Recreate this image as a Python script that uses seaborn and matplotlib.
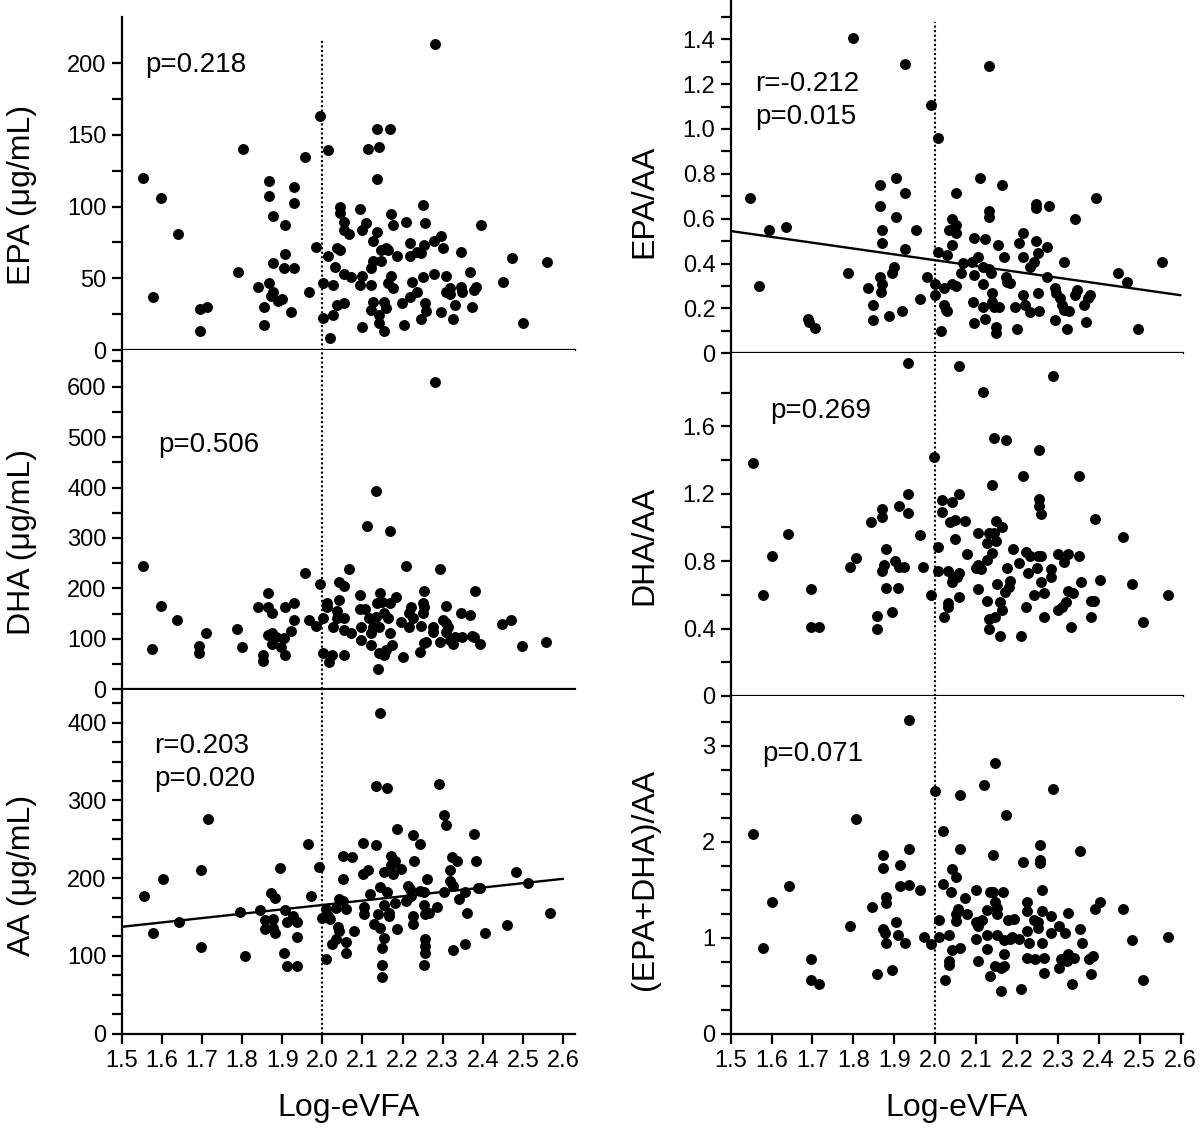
import matplotlib
matplotlib.use("Agg")
import numpy as np
import pandas as pd
import matplotlib.pyplot as plt
import seaborn as sns
from matplotlib.ticker import FixedLocator, FixedFormatter

# (Log-eVFA, value) pairs, one list per panel
epa = [(1.554,120.2),(1.577,36.7),(1.599,106.3),(1.640,80.7),(1.694,28.6),(1.713,30.2),(1.694,13.5),(1.790,54.4),
       (1.803,140.5),(1.841,44.2),(1.854,30.2),(1.854,17.4),(1.867,117.7),(1.867,107.4),(1.877,93.5),(1.867,46.5),
       (1.877,60.5),(1.877,40.7),(1.873,37.9),(1.890,34.2),(1.900,35.6),(1.908,87.2),(1.908,67.0),(1.904,57.0),
       (1.923,26.3),(1.930,114.0),(1.930,102.3),(1.930,57.0),(1.958,134.4),(1.968,40.2),(1.985,72.1),(1.995,163.5),
       (2.003,46.5),(2.003,22.6),(2.014,139.3),(2.014,65.6),(2.018,8.6),(2.026,45.3),(2.026,24.4),(2.031,58.1),
       (2.036,70.9),(2.045,69.8),(2.036,31.4),(2.053,33.0),(2.044,100.0),(2.044,95.3),(2.053,89.5),(2.053,83.7),
       (2.067,80.7),(2.053,53.0),(2.072,50.7),(2.095,98.4),(2.109,88.8),(2.100,83.7),(2.100,51.9),(2.095,45.3),
       (2.100,16.3),(2.114,140.5),(2.137,154.4),(2.141,141.9),(2.137,119.1),(2.137,82.6),(2.127,76.0),(2.127,62.1),
       (2.122,57.0),(2.122,45.3),(2.122,27.9),(2.127,33.7),(2.141,24.4),(2.141,19.1),(2.146,62.1),(2.146,69.8),
       (2.155,33.7),(2.155,13.5),(2.158,29.1),(2.160,70.9),(2.165,69.8),(2.168,154.4),(2.171,94.9),(2.176,87.2),
       (2.171,51.9),(2.163,46.5),(2.176,43.0),(2.186,65.6),(2.199,33.0),(2.204,17.4),(2.209,89.5),(2.218,74.4),
       (2.218,65.6),(2.223,47.7),(2.218,36.7),(2.237,40.2),(2.237,68.6),(2.245,67.4),(2.250,101.2),(2.255,88.4),
       (2.254,73.3),(2.250,50.7),(2.255,32.6),(2.259,27.4),(2.245,21.4),(2.281,213.3),(2.278,76.0),(2.278,53.0),
       (2.295,79.5),(2.301,70.9),(2.296,26.3),(2.309,51.9),(2.309,40.2),(2.318,43.0),(2.318,39.1),(2.326,21.4),
       (2.331,31.4),(2.346,68.1),(2.346,44.2),(2.349,40.2),(2.368,54.2),(2.372,30.2),(2.377,41.9),(2.382,44.2),
       (2.395,87.2),(2.450,47.7),(2.473,64.4),(2.500,18.6),(2.559,61.6)]

dha = [(1.552,245.2),(1.575,79.3),(1.598,165.9),(1.638,137.5),(1.692,86.6),(1.692,71.4),(1.710,111.0),(1.788,119.6),
       (1.801,83.3),(1.839,162.6),(1.852,68.1),(1.852,56.8),(1.865,191.7),(1.865,162.6),(1.875,150.7),(1.865,107.7),
       (1.875,111.0),(1.884,104.4),(1.875,89.9),(1.898,83.3),(1.904,101.1),(1.906,68.1),(1.906,162.6),(1.921,116.3),
       (1.930,171.8),(1.930,137.5),(1.956,231.3),(1.966,137.5),(1.984,126.2),(1.994,208.9),(2.003,140.8),(2.003,71.4),
       (2.012,170.5),(2.012,163.9),(2.017,54.9),(2.025,68.1),(2.026,124.3),(2.036,156.0),(2.036,140.8),(2.042,177.1),
       (2.042,213.5),(2.053,205.6),(2.053,140.8),(2.053,117.6),(2.053,68.1),(2.066,237.9),(2.071,111.0),(2.093,187.0),
       (2.093,158.6),(2.097,122.9),(2.097,97.8),(2.107,158.6),(2.112,324.5),(2.117,140.8),(2.121,87.9),(2.121,111.0),
       (2.126,124.3),(2.134,393.3),(2.136,170.5),(2.134,144.1),(2.141,124.3),(2.141,71.4),(2.139,39.7),(2.144,190.4),
       (2.150,173.8),(2.155,150.7),(2.153,68.1),(2.158,78.0),(2.163,140.8),(2.168,313.9),(2.170,170.5),(2.170,111.0),
       (2.175,87.9),(2.184,183.7),(2.197,132.8),(2.202,64.8),(2.208,245.2),(2.217,150.7),(2.217,122.9),(2.222,163.9),
       (2.227,140.8),(2.244,74.7),(2.245,126.2),(2.250,170.5),(2.250,150.7),(2.254,195.0),(2.254,163.9),(2.254,91.2),
       (2.258,94.5),(2.275,122.9),(2.275,114.3),(2.280,610.0),(2.294,237.9),(2.294,94.5),(2.300,137.5),(2.308,165.9),
       (2.308,130.9),(2.308,114.3),(2.313,122.9),(2.318,97.8),(2.327,89.9),(2.330,104.4),(2.345,150.7),(2.349,104.4),
       (2.367,147.4),(2.373,105.7),(2.378,104.4),(2.380,195.0),(2.394,89.9),(2.449,129.5),(2.471,137.5),(2.499,86.6),
       (2.558,94.5)]

aa = [(1.555,176.8),(1.578,129.6),(1.602,198.3),(1.642,143.8),(1.697,210.3),(1.697,111.2),(1.716,276.4),(1.795,156.7),
      (1.808,99.6),(1.845,158.4),(1.871,181.1),(1.881,174.7),(1.858,145.5),(1.858,134.8),(1.877,146.8),(1.877,136.1),
      (1.881,129.6),(1.895,212.4),(1.908,158.4),(1.913,143.3),(1.927,151.1),(1.936,143.3),(1.936,124.5),(1.904,103.9),
      (1.913,86.7),(1.936,86.7),(1.964,243.3),(1.973,176.8),(1.992,214.6),(2.000,148.9),(2.010,96.1),(2.010,159.7),
      (2.015,151.1),(2.019,146.8),(2.023,115.5),(2.033,121.9),(2.033,161.8),(2.038,137.3),(2.042,172.5),(2.042,131.8),
      (2.052,198.3),(2.052,170.4),(2.052,228.3),(2.060,159.7),(2.060,118.0),(2.060,103.9),(2.075,227.0),(2.079,131.8),
      (2.101,244.6),(2.101,204.7),(2.105,162.7),(2.105,153.2),(2.115,210.3),(2.120,179.8),(2.128,141.2),(2.133,242.5),
      (2.133,318.5),(2.138,153.2),(2.143,188.8),(2.143,136.1),(2.143,412.9),(2.148,110.3),(2.148,87.6),(2.148,72.5),
      (2.153,207.7),(2.153,123.2),(2.153,164.8),(2.161,182.0),(2.166,155.4),(2.166,151.1),(2.161,316.3),(2.171,228.3),
      (2.171,216.3),(2.176,204.7),(2.181,221.9),(2.186,262.7),(2.186,134.8),(2.181,168.2),(2.196,211.2),(2.208,170.4),
      (2.213,189.7),(2.218,185.4),(2.222,176.8),(2.225,254.9),(2.225,151.1),(2.225,141.2),(2.229,221.9),(2.243,243.3),
      (2.243,183.3),(2.253,164.8),(2.253,182.0),(2.257,153.2),(2.257,121.0),(2.257,112.4),(2.257,103.9),(2.253,88.8),
      (2.262,198.3),(2.267,155.4),(2.285,162.7),(2.290,320.6),(2.304,280.7),(2.308,268.2),(2.304,182.0),(2.318,210.3),
      (2.318,196.1),(2.323,227.0),(2.327,189.7),(2.327,107.3),(2.337,221.9),(2.341,172.5),(2.356,182.4),(2.360,155.4),
      (2.356,115.5),(2.379,257.1),(2.384,221.9),(2.389,186.7),(2.394,186.7),(2.406,129.6),(2.461,139.1),(2.484,207.7),
      (2.512,193.1),(2.568,155.4)]

epa_aa = [(1.548,0.691),(1.570,0.300),(1.594,0.550),(1.635,0.565),(1.689,0.152),(1.691,0.140),(1.707,0.114),(1.786,0.357),
          (1.799,1.407),(1.836,0.293),(1.849,0.215),(1.849,0.149),(1.864,0.750),(1.864,0.657),(1.864,0.342),(1.871,0.550),
          (1.871,0.490),(1.871,0.309),(1.867,0.273),(1.886,0.168),(1.895,0.360),(1.899,0.386),(1.904,0.783),(1.904,0.606),
          (1.918,0.190),(1.926,0.716),(1.926,1.288),(1.926,0.465),(1.953,0.550),(1.964,0.241),(1.981,0.342),(1.991,1.107),
          (2.000,0.309),(2.000,0.259),(2.008,0.959),(2.008,0.450),(2.014,0.100),(2.021,0.293),(2.021,0.215),(2.026,0.193),
          (2.030,0.190),(2.028,0.438),(2.033,0.550),(2.041,0.599),(2.041,0.483),(2.041,0.309),(2.050,0.716),(2.050,0.572),
          (2.050,0.535),(2.050,0.302),(2.064,0.357),(2.068,0.401),(2.091,0.409),(2.092,0.230),(2.095,0.516),(2.095,0.349),
          (2.095,0.134),(2.105,0.431),(2.109,0.783),(2.118,0.386),(2.118,0.309),(2.118,0.208),(2.122,0.508),(2.122,0.152),
          (2.131,0.636),(2.131,0.606),(2.132,0.376),(2.132,1.283),(2.136,0.357),(2.140,0.268),(2.140,0.230),(2.145,0.208),
          (2.150,0.119),(2.150,0.092),(2.154,0.483),(2.157,0.208),(2.164,0.750),(2.168,0.431),(2.173,0.342),(2.176,0.320),
          (2.182,0.315),(2.196,0.208),(2.201,0.107),(2.206,0.490),(2.214,0.431),(2.214,0.538),(2.214,0.260),(2.219,0.215),
          (2.232,0.386),(2.232,0.186),(2.241,0.409),(2.246,0.666),(2.246,0.646),(2.246,0.502),(2.251,0.449),(2.252,0.268),
          (2.255,0.190),(2.273,0.473),(2.273,0.342),(2.278,0.657),(2.292,0.293),(2.292,0.149),(2.295,0.268),(2.305,0.245),
          (2.309,0.215),(2.314,0.193),(2.315,0.409),(2.323,0.107),(2.327,0.190),(2.341,0.599),(2.341,0.260),(2.346,0.282),
          (2.364,0.215),(2.369,0.141),(2.374,0.248),(2.379,0.260),(2.393,0.691),(2.446,0.357),(2.468,0.317),(2.497,0.107),
          (2.554,0.406)]

dha_aa = [(1.555,1.384),(1.578,0.599),(1.600,0.830),(1.641,0.963),(1.697,0.633),(1.697,0.407),(1.716,0.407),(1.793,0.765),
          (1.807,0.820),(1.843,1.030),(1.857,0.474),(1.857,0.397),(1.871,1.109),(1.871,1.064),(1.871,0.741),(1.875,0.775),
          (1.880,0.874),(1.880,0.643),(1.894,0.496),(1.902,0.801),(1.908,0.643),(1.912,1.129),(1.912,0.765),(1.925,0.765),
          (1.934,1.198),(1.934,1.083),(1.934,1.973),(1.962,0.955),(1.971,0.765),(1.990,0.599),(1.998,1.416),(2.008,0.886),
          (2.008,0.741),(2.017,1.162),(2.017,1.093),(2.022,0.467),(2.031,0.550),(2.031,0.530),(2.031,0.741),(2.036,1.030),
          (2.040,1.153),(2.040,0.676),(2.044,0.708),(2.049,1.044),(2.049,0.931),(2.054,0.708),(2.058,0.731),(2.058,1.198),
          (2.058,1.959),(2.058,0.585),(2.073,1.040),(2.077,0.842),(2.099,0.761),(2.104,0.965),(2.104,0.775),(2.104,0.633),
          (2.113,0.751),(2.118,1.805),(2.127,0.807),(2.127,0.909),(2.127,0.565),(2.131,0.965),(2.131,0.455),(2.131,0.397),
          (2.140,1.251),(2.140,0.846),(2.145,0.965),(2.145,1.528),(2.147,0.467),(2.150,1.038),(2.150,0.919),(2.152,0.662),
          (2.159,0.356),(2.159,0.560),(2.164,1.000),(2.164,0.510),(2.171,0.619),(2.173,1.518),(2.176,0.761),(2.180,0.648),
          (2.183,0.682),(2.191,0.874),(2.206,0.787),(2.210,0.356),(2.214,1.307),(2.223,0.856),(2.223,0.530),(2.227,0.731),
          (2.233,0.830),(2.242,0.599),(2.249,0.761),(2.251,0.830),(2.255,1.459),(2.255,1.166),(2.255,1.127),(2.260,1.078),
          (2.260,0.830),(2.260,0.678),(2.265,0.609),(2.265,0.467),(2.284,0.751),(2.284,0.708),(2.289,1.898),(2.301,0.840),
          (2.301,0.510),(2.310,0.530),(2.315,0.797),(2.319,0.560),(2.324,0.840),(2.324,0.625),(2.338,0.609),(2.333,0.407),
          (2.352,1.307),(2.352,0.830),(2.356,0.676),(2.381,0.563),(2.381,0.467),(2.388,0.563),(2.390,1.050),(2.404,0.688),
          (2.460,0.941),(2.482,0.662),(2.508,0.441),(2.569,0.599)]

sum_aa = [(1.555,2.082),(1.578,0.893),(1.601,1.376),(1.642,1.536),(1.697,0.775),(1.697,0.563),(1.715,0.521),(1.793,1.123),
          (1.807,2.238),(1.845,1.321),(1.858,0.619),(1.872,1.867),(1.872,1.731),(1.872,1.088),(1.877,1.053),(1.881,1.425),
          (1.881,1.366),(1.881,0.949),(1.895,0.660),(1.904,1.168),(1.909,1.025),(1.914,1.755),(1.914,1.540),(1.927,0.949),
          (1.936,3.271),(1.936,1.926),(1.936,1.554),(1.963,1.498),(1.973,1.008),(1.991,0.932),(2.000,2.530),(2.009,1.182),
          (2.009,1.008),(2.019,2.113),(2.019,1.557),(2.023,0.560),(2.033,1.025),(2.033,0.758),(2.033,0.716),(2.038,1.477),
          (2.042,1.714),(2.042,0.872),(2.051,1.634),(2.051,1.244),(2.051,1.175),(2.055,1.303),(2.060,2.489),(2.060,1.926),
          (2.060,0.897),(2.074,1.418),(2.079,1.244),(2.101,1.498),(2.101,1.168),(2.101,0.991),(2.106,1.123),(2.106,0.758),
          (2.115,1.185),(2.120,2.589),(2.128,1.286),(2.128,1.025),(2.128,0.879),(2.133,1.477),(2.133,0.601),(2.142,1.867),
          (2.142,1.477),(2.146,2.826),(2.146,1.373),(2.151,1.314),(2.151,1.244),(2.146,0.706),(2.151,1.025),(2.160,0.688),
          (2.160,0.445),(2.165,1.477),(2.169,0.973),(2.169,0.834),(2.169,0.706),(2.174,2.277),(2.178,1.182),(2.183,0.991),
          (2.188,1.008),(2.192,1.199),(2.206,0.991),(2.210,0.462),(2.215,1.790),(2.224,1.376),(2.224,1.279),(2.224,1.071),
          (2.224,0.792),(2.229,0.949),(2.241,1.185),(2.244,0.775),(2.251,1.168),(2.251,1.105),(2.257,1.964),(2.257,1.807),
          (2.257,1.783),(2.262,1.498),(2.262,1.279),(2.262,0.949),(2.266,0.792),(2.266,0.636),(2.284,1.053),(2.284,1.227),
          (2.289,2.555),(2.303,1.123),(2.303,0.681),(2.308,0.775),(2.317,1.053),(2.322,0.758),(2.326,1.262),(2.326,0.834),
          (2.335,0.521),(2.340,0.792),(2.354,1.905),(2.354,1.088),(2.358,0.949),(2.376,0.775),(2.381,0.619),(2.386,0.810),
          (2.390,1.303),(2.403,1.376),(2.459,1.303),(2.482,0.973),(2.508,0.560),(2.569,1.008)]

# fitted regression lines (end points)
aa_fit_x = [1.5, 2.6]
aa_fit_y = [137.3, 199.1]
epa_aa_fit_x = [1.5, 2.6]
epa_aa_fit_y = [0.545, 0.259]

x_ticks = [1.5, 1.6, 1.7, 1.8, 1.9, 2.0, 2.1, 2.2, 2.3, 2.4, 2.5, 2.6]
x_labels = ["1.5", "1.6", "1.7", "1.8", "1.9", "2.0", "2.1", "2.2", "2.3", "2.4", "2.5", "2.6"]
cutoff = 2.0

epa_ticks = [0, 50, 100, 150, 200]
dha_ticks = [0, 100, 200, 300, 400, 500, 600]
aa_ticks = [0, 100, 200, 300, 400]
epa_aa_ticks = [0, 0.2, 0.4, 0.6, 0.8, 1.0, 1.2, 1.4]
epa_aa_labels = ["0", "0.2", "0.4", "0.6", "0.8", "1.0", "1.2", "1.4"]
dha_aa_ticks = [0, 0.4, 0.8, 1.2, 1.6]
dha_aa_labels = ["0", "0.4", "0.8", "1.2", "1.6"]
sum_aa_ticks = [0, 1, 2, 3]

panels = [
    # data, label, rect, ytop, major, labels, minor, notes, fit, dotted top, bottom row, xmax, label pos
    (epa, "EPA (μg/mL)", [0.1014, 0.6908, 0.3778, 0.2942], 232.3, epa_ticks, [str(t) for t in epa_ticks],
     [25, 75, 125, 175], [(1.558, 194.1, "p=0.218")], None, 0.934, False, 2.63, -0.22, 0.465),
    (dha, "DHA (μg/mL)", [0.1014, 0.3911, 0.3778, 0.2993], 671.8, dha_ticks, [str(t) for t in dha_ticks],
     [50, 150, 250, 350, 450, 550, 650], [(1.592, 471, "p=0.506")], None, 1.0, False, 2.63, -0.22, 0.436),
    (aa, "AA (μg/mL)", [0.1014, 0.0870, 0.3778, 0.3034], 442.0, aa_ticks, [str(t) for t in aa_ticks],
     [25, 50, 75, 125, 150, 175, 225, 250, 275, 325, 350, 375, 425],
     [(1.582, 361.4, "r=0.203"), (1.582, 318.4, "p=0.020")], (aa_fit_x, aa_fit_y), 1.0, True, 2.63, -0.22, 0.46),
    (epa_aa, "EPA/AA", [0.6089, 0.6879, 0.3769, 0.3121], 1.575, epa_aa_ticks, epa_aa_labels,
     [0.1, 0.3, 0.5, 0.7, 0.9, 1.1, 1.3, 1.5], [(1.560, 1.171, "r=-0.212"), (1.560, 1.022, "p=0.015")],
     (epa_aa_fit_x, epa_aa_fit_y), 0.938, False, 2.606, -0.19, 0.43),
    (dha_aa, "DHA/AA", [0.6089, 0.3852, 0.3769, 0.3027], 2.033, dha_aa_ticks, dha_aa_labels,
     [0.2, 0.6, 1.0, 1.4, 1.8], [(1.597, 1.647, "p=0.269")], None, 1.0, False, 2.606, -0.19, 0.44),
    (sum_aa, "(EPA+DHA)/AA", [0.6089, 0.0870, 0.3769, 0.2981], 3.52, sum_aa_ticks, [str(t) for t in sum_aa_ticks],
     [0.25, 0.5, 0.75, 1.25, 1.5, 1.75, 2.25, 2.5, 2.75, 3.25], [(1.577, 2.844, "p=0.071")], None, 1.0, True,
     2.606, -0.19, 0.457),
]

sns.set_theme(style="ticks")
plt.rcParams["font.family"] = ["Liberation Sans", "DejaVu Sans"]
plt.rcParams["axes.linewidth"] = 1.6
for key in ["text.color", "axes.labelcolor", "xtick.color", "ytick.color", "axes.edgecolor"]:
    plt.rcParams[key] = "black"

fig = plt.figure(figsize=(12, 11.32), dpi=100)

for data, label, rect, ytop, major, labels, minor, notes, fit, vtop, bottom, xmax, lx, ly in panels:
    ax = fig.add_axes(rect)
    df = pd.DataFrame(data, columns=["log_evfa", "value"])
    ax.axvline(cutoff, ymin=0, ymax=vtop, color="black", lw=1.5, ls=(0, (1, 1.2)), zorder=1)
    sns.scatterplot(data=df, x="log_evfa", y="value", ax=ax, color="black", s=62,
                    linewidth=0, zorder=3, legend=False)
    if fit is not None:
        sns.lineplot(x=fit[0], y=fit[1], ax=ax, color="black", lw=1.7, zorder=2)
    for tx, ty, txt in notes:
        ax.text(tx, ty, txt, fontsize=20, ha="left", va="baseline")

    ax.set_xlim(1.5, xmax)
    ax.set_ylim(0, ytop)
    sns.despine(ax=ax)
    ax.yaxis.set_major_locator(FixedLocator(major))
    ax.yaxis.set_major_formatter(FixedFormatter(labels))
    ax.yaxis.set_minor_locator(FixedLocator(minor))
    ax.tick_params(axis="y", which="both", direction="out", length=7, width=1.6,
                   labelsize=17, pad=4)
    ax.set_ylabel(label, fontsize=23, va="center")
    ax.yaxis.set_label_coords(lx, ly)
    if bottom:
        ax.xaxis.set_major_locator(FixedLocator(x_ticks))
        ax.xaxis.set_major_formatter(FixedFormatter(x_labels))
        ax.tick_params(axis="x", direction="out", length=7, width=1.6, labelsize=17, pad=5)
        ax.set_xlabel("Log-eVFA", fontsize=23, labelpad=15)
    else:
        ax.tick_params(axis="x", bottom=False, labelbottom=False)
        ax.set_xlabel("")

fig.savefig("out.png", dpi=100, facecolor="white")
